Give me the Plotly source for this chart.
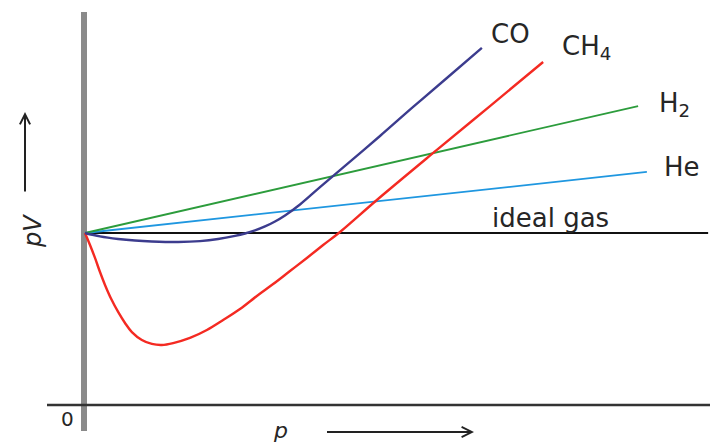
import plotly.graph_objects as go

# ---- data (p in arbitrary units, pV relative to ideal gas = 1) ----
co_p = [0, 0.24, 0.53, 0.80, 1.07, 1.49, 1.84, 2.13, 2.40, 2.56, 2.72, 2.88, 3.04, 3.20,
        3.44, 3.76, 4.08, 4.72, 5.25, 5.79, 6.35]
co_pv = [1.0, 0.980, 0.965, 0.956, 0.951, 0.948, 0.953, 0.965, 0.983, 0.997, 1.015, 1.038, 1.067, 1.102,
         1.166, 1.267, 1.366, 1.564, 1.733, 1.901, 2.076]

ch4_p = [0, 0.08, 0.16, 0.24, 0.32, 0.42, 0.53, 0.64, 0.75, 0.91, 1.07, 1.23, 1.41, 1.68, 1.95,
         2.21, 2.48, 2.75, 3.01, 3.28, 3.55, 3.81, 4.08, 4.67, 5.63, 6.48, 7.33]
ch4_pv = [1.0, 0.930, 0.855, 0.773, 0.698, 0.616, 0.541, 0.477, 0.424, 0.378, 0.355, 0.349, 0.360, 0.390, 0.436,
          0.494, 0.558, 0.634, 0.703, 0.779, 0.855, 0.930, 1.006, 1.192, 1.483, 1.738, 1.994]

h2_p = [0, 8.85]
h2_pv = [1.0, 1.738]

he_p = [0, 8.99]
he_pv = [1.0, 1.355]

ideal_p = [0, 9.97]
ideal_pv = [1.0, 1.0]

W, H = 710, 442
X0, Y0 = 85, 405          # pixel of origin
SX, SY = 62.5, 172.0      # pixels per unit


def d(x, y):
    """pixel -> data"""
    return (x - X0) / SX, (Y0 - y) / SY


xr = [d(0, 0)[0], d(W, 0)[0]]
yr = [d(0, H)[1], d(0, 0)[1]]

fig = go.Figure()

fig.add_trace(go.Scatter(x=ideal_p, y=ideal_pv, mode="lines",
                         line=dict(color="#111111", width=2), hoverinfo="skip"))
fig.add_trace(go.Scatter(x=he_p, y=he_pv, mode="lines",
                         line=dict(color="#1f97e0", width=1.8), hoverinfo="skip"))
fig.add_trace(go.Scatter(x=h2_p, y=h2_pv, mode="lines",
                         line=dict(color="#2c9c3c", width=1.8), hoverinfo="skip"))
fig.add_trace(go.Scatter(x=ch4_p, y=ch4_pv, mode="lines",
                         line=dict(color="#f42a22", width=2.4, shape="spline", smoothing=1.0),
                         hoverinfo="skip"))
fig.add_trace(go.Scatter(x=co_p, y=co_pv, mode="lines",
                         line=dict(color="#3c3c8e", width=2.4, shape="spline", smoothing=1.0),
                         hoverinfo="skip"))

shapes = []
# vertical axis (gray thick bar)
x1, y1 = d(84, 12)
x2, y2 = d(84, 431)
shapes.append(dict(type="line", x0=x1, y0=y1, x1=x2, y1=y2,
                   line=dict(color="#8a8a8a", width=6), layer="below"))
# horizontal axis
x1, y1 = d(47, 405)
x2, y2 = d(710, 405)
shapes.append(dict(type="line", x0=x1, y0=y1, x1=x2, y1=y2,
                   line=dict(color="#333333", width=2.5), layer="below"))

FONT = "DejaVu Sans"
TC = "#262626"
ann = []


def label(px, py, text, size=26, **kw):
    x, y = d(px, py)
    ann.append(dict(x=x, y=y, text=text, showarrow=False,
                    font=dict(family=FONT, size=size, color=TC),
                    xanchor="center", yanchor="middle", **kw))


label(510, 34, "CO")
label(586, 47, "CH<sub>4</sub>")
label(674, 104, "H<sub>2</sub>")
label(682, 167, "He")
label(550, 218, "ideal gas")
label(67, 419, "0", size=20)
label(280, 430, "<i>p</i>", size=22)
label(33, 231, "<i>pV</i>", size=24, textangle=-90)

# arrows
hx, hy = d(25, 112)
ann.append(dict(x=hx, y=hy, ax=0, ay=88, showarrow=True, arrowhead=5,
                arrowsize=1, arrowwidth=2, arrowcolor="#222222", text=" ",
                font=dict(size=10)))
hx, hy = d(474, 432)
ann.append(dict(x=hx, y=hy, ax=-150, ay=0, showarrow=True, arrowhead=5,
                arrowsize=1, arrowwidth=2, arrowcolor="#222222", text=" ",
                font=dict(size=10)))

fig.update_layout(
    width=W, height=H,
    margin=dict(l=0, r=0, t=0, b=0),
    paper_bgcolor="white", plot_bgcolor="white",
    showlegend=False,
    xaxis=dict(range=xr, visible=False, fixedrange=True),
    yaxis=dict(range=yr, visible=False, fixedrange=True),
    shapes=shapes, annotations=ann,
)

fig.write_html("out.html", config={"displayModeBar": False},
               post_script="document.body.style.margin='0px';document.body.style.overflow='hidden';")
